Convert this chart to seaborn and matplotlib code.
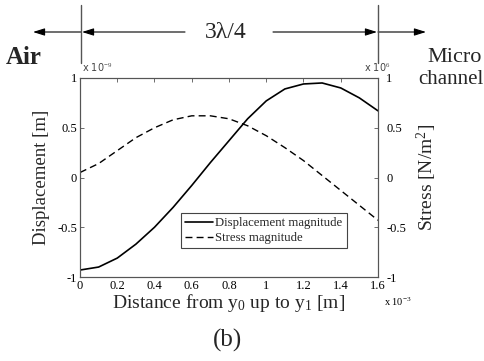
import matplotlib
matplotlib.use("Agg")
import matplotlib.pyplot as plt
import matplotlib.patches as mpatches
import seaborn as sns
import pandas as pd

# Data (x in units of 1e-3 m)
distance = [0.0, 0.1, 0.2, 0.3, 0.4, 0.5, 0.6, 0.7, 0.8, 0.9, 1.0, 1.1, 1.2, 1.3, 1.4, 1.5, 1.6]
displacement = [-0.93, -0.90, -0.81, -0.67, -0.50, -0.30, -0.08, 0.15, 0.37, 0.59, 0.77, 0.89, 0.94, 0.95, 0.90, 0.80, 0.67]
stress = [0.05, 0.14, 0.27, 0.40, 0.50, 0.58, 0.62, 0.62, 0.59, 0.52, 0.42, 0.30, 0.17, 0.02, -0.13, -0.28, -0.43]
xticks = [0, 0.2, 0.4, 0.6, 0.8, 1.0, 1.2, 1.4, 1.6]
xticklabels = ["0", "0.2", "0.4", "0.6", "0.8", "1", "1.2", "1.4", "1.6"]
yticks = [-1, -0.5, 0, 0.5, 1]
yticklabels = ["-1", "-0.5", "0", "0.5", "1"]

sns.set_theme(style="white")
plt.rcParams["font.family"] = ["Liberation Serif", "DejaVu Serif"]
plt.rcParams["mathtext.fontset"] = "custom"
plt.rcParams["mathtext.rm"] = "Liberation Serif"
plt.rcParams["mathtext.it"] = "Liberation Serif:italic"

df = pd.DataFrame({"d": distance, "disp": displacement, "stress": stress})

W, H = 485, 361
fig = plt.figure(figsize=(W / 100, H / 100), dpi=100)
fig.patch.set_facecolor("white")
L, R, T, B = 80, 378, 78, 277
ax = fig.add_axes([L / W, 1 - B / H, (R - L) / W, (B - T) / H])
ax2 = ax.twinx()

sns.lineplot(data=df, x="d", y="disp", ax=ax, color="black", lw=1.2,
             label="Displacement magnitude", legend=False)
sns.lineplot(data=df, x="d", y="stress", ax=ax2, color="black", lw=1.0,
             linestyle=(0, (5, 3)), label="Stress magnitude", legend=False)

for a in (ax, ax2):
    a.set_xlim(0, 1.6)
    a.set_ylim(-1, 1)
    a.set_facecolor("none")
    for s in a.spines.values():
        s.set_color("#555555")
        s.set_linewidth(0.8)

tick_fs = 9
ax.set_xticks(xticks)
ax.set_xticklabels(xticklabels, fontsize=tick_fs)
ax.set_yticks(yticks)
ax.set_yticklabels(yticklabels, fontsize=tick_fs)
ax2.set_yticks(yticks)
ax2.set_yticklabels(yticklabels, fontsize=tick_fs)
ax.tick_params(axis="both", direction="in", length=3, width=0.6, colors="#555555",
               labelcolor="black", top=True, pad=2)
ax2.tick_params(axis="y", direction="in", length=3, width=0.6, colors="#555555",
                labelcolor="black", pad=6)

ax.set_xlabel("Distance from y$_0$ up to y$_1$ [m]", fontsize=14, labelpad=0)
ax.set_ylabel("Displacement [m]", fontsize=13.5, labelpad=5)
ax2.set_ylabel("Stress [N/m$^2$]", fontsize=14, labelpad=6)

# legend
h1, l1 = ax.get_legend_handles_labels()
h2, l2 = ax2.get_legend_handles_labels()
leg = ax2.legend(h1 + h2, l1 + l2, loc="lower left",
                 bbox_to_anchor=((181 - L) / (R - L), (B - 248) / (B - T)),
                 fontsize=9.2, frameon=True, fancybox=False, framealpha=1,
                 edgecolor="#444444", handlelength=2.2, handletextpad=0.2,
                 borderpad=0.3, labelspacing=0.25, borderaxespad=0)
leg.get_frame().set_linewidth(0.8)


def fx(x):
    return x / W


def fy(y):
    return 1 - y / H


sans = ["DejaVu Sans"]
fig.text(fx(82), fy(68), r"x 10$^{-9}$", fontsize=7, color="#444444", family=sans, va="center")
fig.text(fx(364), fy(68), r"x 10$^{6}$", fontsize=7, color="#444444", family=sans, va="center")
fig.text(fx(384), fy(302), r"x 10$^{-3}$", fontsize=7.5, color="black", va="center")

# Top annotations
fig.add_artist(plt.Line2D([fx(81), fx(81)], [fy(5), fy(63)], color="#555555", lw=1))
fig.add_artist(plt.Line2D([fx(378), fx(378)], [fy(5), fy(63)], color="#555555", lw=1))
arrow_kw = dict(arrowstyle="-|>,head_length=0.7,head_width=0.22", color="black", lw=0.8,
                shrinkA=0, shrinkB=0, mutation_scale=10, transform=fig.transFigure)
ay = fy(32)
fig.add_artist(mpatches.FancyArrowPatch((fx(81), ay), (fx(33), ay), **arrow_kw))
fig.add_artist(mpatches.FancyArrowPatch((fx(185), ay), (fx(82), ay), **arrow_kw))
fig.add_artist(mpatches.FancyArrowPatch((fx(273), ay), (fx(377), ay), **arrow_kw))
fig.add_artist(mpatches.FancyArrowPatch((fx(378), ay), (fx(426), ay), **arrow_kw))
fig.text(fx(226), fy(32), "3λ/4", fontsize=17, ha="center", va="center")
fig.text(fx(6), fy(57), "Air", fontsize=18, fontweight="bold", ha="left", va="center")
fig.text(fx(482), fy(57), "Micro", fontsize=16, ha="right", va="center")
fig.text(fx(484), fy(79), "channel", fontsize=15, ha="right", va="center")
fig.text(fx(228), fy(340), "(b)", fontsize=18, ha="center", va="center")

fig.savefig("out.png", dpi=100, facecolor="white")
